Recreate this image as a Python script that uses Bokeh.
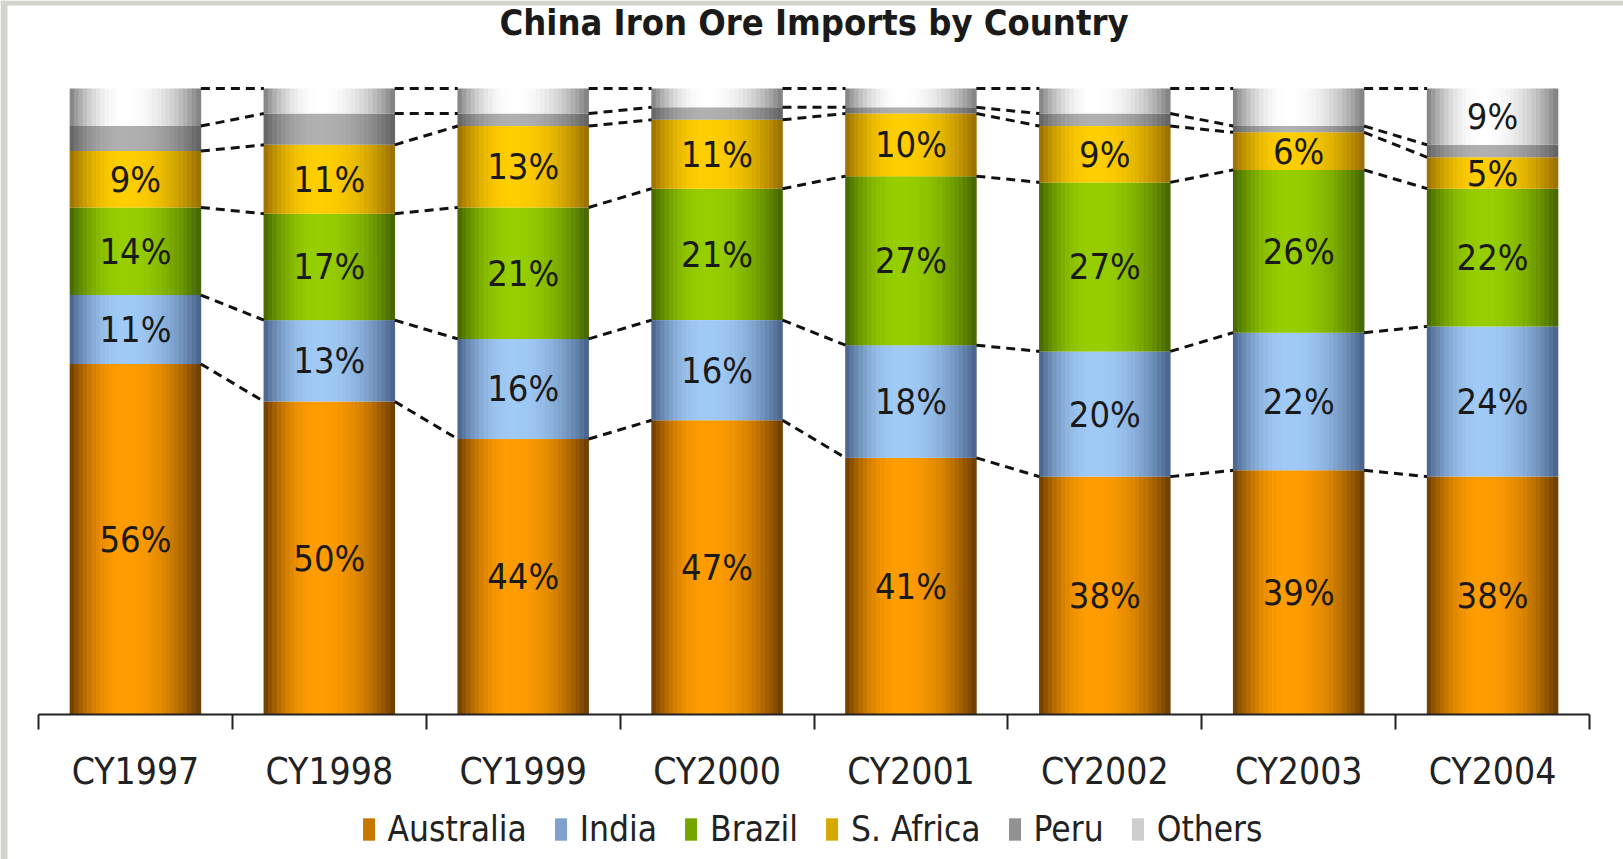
import numpy as np
from bokeh.plotting import figure
from bokeh.models import (ColumnDataSource, FixedTicker, Range1d, Legend, LegendItem,
                          Label, LabelSet, LinearAxis, BoxAnnotation)
from bokeh.embed import file_html
from bokeh.resources import INLINE
from bokeh.core.properties import value

# ---------------- data ----------------
years = ["CY1997", "CY1998", "CY1999", "CY2000", "CY2001", "CY2002", "CY2003", "CY2004"]
series_names = ["Australia", "India", "Brazil", "S. Africa", "Peru", "Others"]
australia = [56, 50, 44, 47, 41, 38, 39, 38]
india = [11, 13, 16, 16, 18, 20, 22, 24]
brazil = [14, 17, 21, 21, 27, 27, 26, 22]
s_africa = [9, 11, 13, 11, 10, 9, 6, 5]
peru = [4, 5, 2, 2, 1, 2, 1, 2]
others = [6, 4, 4, 3, 3, 4, 6, 9]
title_text = "China Iron Ore Imports by Country"

# ---------------- styles / layout ----------------
FONT = "DejaVu Sans Condensed"
W, H = 1623, 859
PLOT_L, PLOT_R = 38, 1589        # pixel extent of the category axis
Y0_PX, Y100_PX = 714, 88         # pixel rows of 0 % and 100 %
bright = {"Australia": (255, 156, 0), "India": (160, 202, 246), "Brazil": (150, 206, 0),
          "S. Africa": (255, 206, 0), "Peru": (176, 176, 176), "Others": (255, 255, 255)}
dark = {"Australia": (105, 58, 0), "India": (70, 96, 136), "Brazil": (66, 98, 0),
        "S. Africa": (150, 108, 0), "Peru": (96, 96, 96), "Others": (125, 125, 125)}
BW = 0.675
NSTRIP = 30

values = [australia, india, brazil, s_africa, peru, others]
vals = np.array(values, dtype=float)            # series x bars
cum_top = np.cumsum(vals, axis=0)
cum_bot = cum_top - vals
ncat = len(years)
centers = np.arange(ncat) + 0.5

px_per_x = (PLOT_R - PLOT_L) / ncat
px_per_y = (Y0_PX - Y100_PX) / 100.0
x_range = Range1d(-PLOT_L / px_per_x, ncat + (W - PLOT_R) / px_per_x)
y_range = Range1d(-(H - Y0_PX) / px_per_y, Y0_PX / px_per_y)


def shade(name, t, p=0.42):
    u = (p - t) / p if t < p else (t - p) / (1 - p)
    g = max(0.0, 1 - u ** 2.2)
    b = np.array(bright[name]); d = np.array(dark[name])
    c = d + (b - d) * g
    return "#%02x%02x%02x" % tuple(int(round(v)) for v in c)


p = figure(width=W, height=H, x_range=x_range, y_range=y_range,
           output_backend="svg", toolbar_location=None,
           min_border_left=0, min_border_right=0, min_border_top=0, min_border_bottom=0,
           background_fill_color="white", border_fill_color="white", outline_line_color=None)
p.xaxis.visible = False
p.yaxis.visible = False
p.xgrid.visible = False
p.ygrid.visible = False

# light grey frame bands at left and top (as in the source picture)
p.add_layout(BoxAnnotation(right=x_range.start + 7 / px_per_x, fill_color="#d4d4cc",
                           fill_alpha=1, line_color=None, level="underlay"))
p.add_layout(BoxAnnotation(bottom=y_range.end - 5 / px_per_y, fill_color="#d4d4cc",
                           fill_alpha=1, line_color=None, level="underlay"))

renderers = []
strip_w = BW / NSTRIP
for si, name in enumerate(series_names):
    xs, tops, bots, cols = [], [], [], []
    for i in range(ncat):
        for k in range(NSTRIP):
            t = (k + 0.5) / NSTRIP
            xs.append(centers[i] - BW / 2 + (k + 0.5) * strip_w)
            tops.append(cum_top[si, i])
            bots.append(cum_bot[si, i])
            cols.append(shade(name, t))
    src = ColumnDataSource(dict(x=xs, top=tops, bottom=bots, color=cols))
    r = p.vbar(x="x", top="top", bottom="bottom", width=strip_w * 1.15, source=src,
               fill_color="color", line_color=None)
    renderers.append(r)

# dashed connectors between adjacent bars at each segment boundary
x0s, x1s, y0s, y1s = [], [], [], []
for si in range(len(series_names)):
    for i in range(ncat - 1):
        x0s.append(centers[i] + BW / 2)
        x1s.append(centers[i + 1] - BW / 2)
        y0s.append(cum_top[si, i])
        y1s.append(cum_top[si, i + 1])
p.segment(x0=x0s, y0=y0s, x1=x1s, y1=y1s, line_color="#111111", line_width=3,
          line_dash="9 6")

# data labels
lx, ly, lt = [], [], []
for si, name in enumerate(series_names):
    for i in range(ncat):
        v = vals[si, i]
        if name in ("Australia", "India", "Brazil", "S. Africa") or v >= 9:
            lx.append(centers[i])
            ly.append((cum_top[si, i] + cum_bot[si, i]) / 2)
            lt.append("%d%%" % v)
lsrc = ColumnDataSource(dict(x=lx, y=ly, t=lt))
p.add_layout(LabelSet(x="x", y="y", text="t", source=lsrc, text_align="center",
                      text_baseline="middle", text_font=value(FONT), text_font_size="36px",
                      text_color="#1a1a1a"))

# title
p.add_layout(Label(x=ncat / 2, y=(Y0_PX - 22) / px_per_y, text=title_text,
                   text_align="center", text_baseline="middle", text_font=FONT,
                   text_font_size="36px", text_font_style="bold", text_color="#1a1a1a"))

# category axis at 0 %
xa = LinearAxis(ticker=FixedTicker(ticks=list(centers), minor_ticks=list(range(ncat + 1))),
                major_label_overrides={float(c): y for c, y in zip(centers, years)},
                fixed_location=0, bounds=(0, ncat))
xa.axis_line_color = "#222222"
xa.axis_line_width = 2
xa.major_tick_line_color = None
xa.major_tick_out = 0
xa.major_tick_in = 0
xa.minor_tick_line_color = "#222222"
xa.minor_tick_line_width = 2
xa.minor_tick_out = 15
xa.minor_tick_in = 0
xa.major_label_standoff = 20
xa.major_label_text_font = FONT
xa.major_label_text_font_size = "37px"
xa.major_label_text_color = "#222222"
p.add_layout(xa, "below")

items = [LegendItem(label=n, renderers=[r], index=4)
         for n, r in zip(series_names, renderers)]
legend = Legend(items=items, orientation="horizontal", location="bottom_center",
                glyph_width=15, glyph_height=28, label_standoff=12, spacing=26,
                label_text_font=FONT, label_text_font_size="35px", label_text_color="#222222",
                border_line_color=None, background_fill_alpha=0, padding=0, margin=10)
p.add_layout(legend)

open("out.html", "w").write(file_html(p, INLINE))
